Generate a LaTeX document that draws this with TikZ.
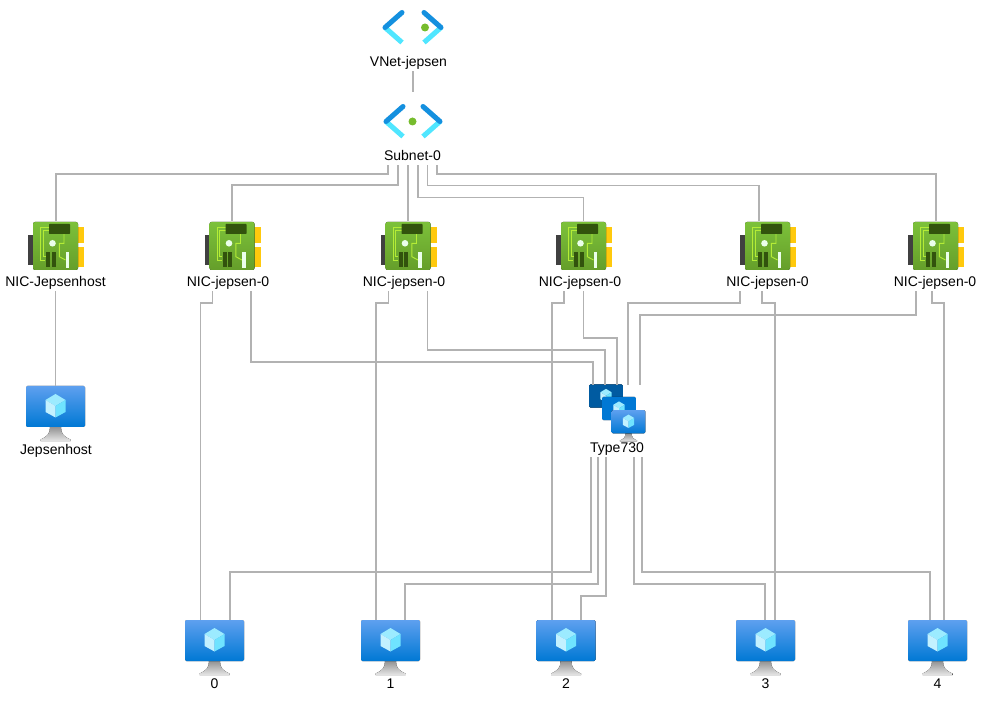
\documentclass[tikz,border=0pt]{standalone}
\usepackage{fontspec}
\setmainfont{Liberation Sans}
\usetikzlibrary{positioning,calc}
\definecolor{wirecol}{HTML}{B2B2B2}
\definecolor{vmtop}{HTML}{5EA0EF}
\definecolor{vmbot}{HTML}{0078D4}
\definecolor{vmdark}{HTML}{005BA1}
\definecolor{nettop}{HTML}{1490DF}
\definecolor{netlow}{HTML}{50E6FF}
\definecolor{cubetop}{HTML}{9CEBFF}
\definecolor{cubeleft}{HTML}{C3F1FF}
\definecolor{cuberight}{HTML}{6FE3FF}
\definecolor{nictop}{HTML}{7CC13A}
\definecolor{nicbot}{HTML}{659E2A}
\definecolor{nicdark}{HTML}{32530D}
\definecolor{nicline}{HTML}{B4EC36}
\definecolor{nicyel}{HTML}{FFC90D}
\definecolor{dotgreen}{HTML}{76BC2D}
\newcommand{\vmbody}[2]{
  \fill[rounded corners=1pt, top color=#1, bottom color=#2] (-29.5,-20.5) rectangle (29.5,20.5);
  \fill[cubetop] (0,-12.5) -- (10,-6.5) -- (0,-.5) -- (-10,-6.5) -- cycle;
  \fill[cubeleft] (-10,-6.5) -- (0,-.5) -- (0,11) -- (-10,5.5) -- cycle;
  \fill[cuberight] (10,-6.5) -- (0,-.5) -- (0,11) -- (10,5.5) -- cycle;
}
\tikzset{
  wire/.style={draw=wirecol, line width=.9pt},
  lab/.style={inner sep=0pt, minimum height=15pt, text height=8.5pt, text depth=0pt, font=\fontsize{10.5}{12}\selectfont},
  iconbox/.style={inner sep=0pt, minimum width=59*.75pt, minimum height=55*.75pt},
  nicbox/.style={inner sep=0pt, minimum width=45*.75pt, minimum height=50*.75pt},
  netbox/.style={inner sep=0pt, minimum width=56*.75pt, minimum height=58*.75pt},
  pics/vmscreen/.style 2 args={code={\vmbody{#1}{#2}}},
  pics/vmicon/.style={code={
    \fill[top color=gray!85, bottom color=gray!20] (-5.5,13.5) -- (5.5,13.5) .. controls (5.5,20) and (8,23) .. (15,26) -- (15,27.5) -- (-15,27.5) -- (-15,26) .. controls (-8,23) and (-5.5,20) .. (-5.5,13.5) -- cycle;
    \begin{scope}[shift={(0,-7)}] \vmbody{vmtop}{vmbot} \end{scope}
  }},
  pics/nicicon/.style={code={
    \fill[black!75] (-27.5,-11) rectangle (-22,19);
    \fill[nicyel] (22,-19) rectangle (28.5,-3);
    \fill[nicyel] (22,1) rectangle (28.5,21);
    \fill[rounded corners=1.5pt, top color=nictop, bottom color=nicbot] (-22.5,-24) rectangle (22.5,24);
    \draw[nicline, line width=.7pt] (-6.5,-18.7) -- (-14.8,-18.7) -- (-14.8,14) -- (-10.5,14);
    \draw[nicline, line width=.7pt] (-6.5,-15.3) -- (-12.2,-15.3) -- (-12.2,10.7) -- (-10,10.7);
    \draw[nicline, line width=.7pt] (8.5,-12) -- (8.5,-2.7) -- (3.8,-2.7) -- (3.8,10.7) -- (10,14);
    \fill[nicdark, rounded corners=.5pt] (-6.5,-22) rectangle (14.5,-12);
    \fill[nicdark] (-9.5,6) rectangle (-5.5,21);
    \fill[nicdark] (-3.8,6) rectangle (.2,21);
    \fill[white!92!green] (-3,-2.7) circle [radius=3.3];
    \fill[white!92!green] (10.2,6) rectangle (13.5,22);
  }},
  pics/neticon/.style 2 args={code={
    \draw[netlow, line width=3.8pt] (-#1-17,0) -- (-#1,15);
    \draw[netlow, line width=3.8pt] (#1+17,0) -- (#1,15);
    \draw[nettop, line width=3.8pt, line cap=round] (-#1-17,0) -- (-#1,-15);
    \draw[nettop, line width=3.8pt, line cap=round] (#1+17,0) -- (#1,-15);
    \fill[dotgreen] (#2,0) circle [radius=3pt];
  }},
}
\begin{document}
\begin{tikzpicture}[x=.75pt, y=-.75pt]
\useasboundingbox (0,0) rectangle (986,702);
% network
\node[netbox] (vnet) at (413,27.5) {}; \pic at (vnet) {neticon={11}{12}};
\node[lab] (vnetlab) at (408.5,61) {VNet-jepsen};
\node[netbox] (subnet) at (413,121.5) {}; \pic at (subnet) {neticon={10}{-.5}};
\node[lab] (subnetlab) at (412.5,155) {Subnet-0};
% NICs
\foreach \n/\x/\lx/\txt in {a/55.5/55.5/NIC-Jepsenhost, b/232/228/NIC-jepsen-0, c/408/404/NIC-jepsen-0, d/583.5/580/NIC-jepsen-0, e/767.5/767.5/NIC-jepsen-0, f/935.5/935/NIC-jepsen-0} {
  \node[nicbox] (nic\n) at (\x,246) {}; \pic at (nic\n) {nicicon};
  \node[lab] (lab\n) at (\lx,281) {\txt};
}
% VMs
\node[iconbox] (host) at (55.5,413.5) {}; \pic at (host) {vmicon};
\node[lab] (hostlab) at (56,449) {Jepsenhost};
\foreach \n/\x in {0/214.5,1/390.5,2/566,3/765.5,4/937.5} {
  \node[iconbox] (vm\n) at (\x,647.5) {}; \pic at (vm\n) {vmicon};
  \node[lab] (vmlab\n) at (\x,683) {\n};
}
% scale set
\node[iconbox] (tpl) at (617,412.5) {};
\pic[scale=.57] at (606,396) {vmscreen={vmdark}{vmdark}};
\pic[scale=.57] at (619,408.5) {vmscreen={vmbot}{vmbot}};
\pic[scale=.57] at (628.5,425.7) {vmicon};
\node[lab] (tpllab) at (617,447) {Type730};
% straight links
\draw[wire] (vnetlab.south -| subnet) -- (subnet.north);
\draw[wire] (laba.south) -- (host.north);
% routed links
\foreach \a/\i/\y/\b/\j in {
  subnetlab/-24.5/174/nica/0.5, subnetlab/-14.5/185/nicb/0, subnetlab/-4.5/190/nicc/0, subnetlab/5.5/197.5/nicd/0, subnetlab/15/185.5/nice/-8.5, subnetlab/24.5/174/nicf/0.5,
  labb/-15.3/303/vm0/-14, labb/23/362/tpl/-24, labc/-15.3/303/vm1/-14.5, labc/23.5/350/tpl/-12, labd/-16/303/vm2/-14, labd/3.5/338/tpl/0,
  labe/-27.5/303/tpl/11, labe/-5.5/303/vm3/9.5, labf/-19/315/tpl/23, labf/-3/303/vm4/6.5,
  tpllab/-26/572/vm0/15.5, tpllab/-19/584/vm1/14.5, tpllab/-11/596/vm2/15, tpllab/17/584/vm3/-0.5, tpllab/25/572/vm4/-7.5} {
  \coordinate (s) at ($(\a.south)+(\i,0)$);
  \coordinate (e) at ($(\b.north)+(\j,0)$);
  \draw[wire] (s) -- (s |- 0,\y) -- (e |- 0,\y) -- (e);
}
\end{tikzpicture}
\end{document}
